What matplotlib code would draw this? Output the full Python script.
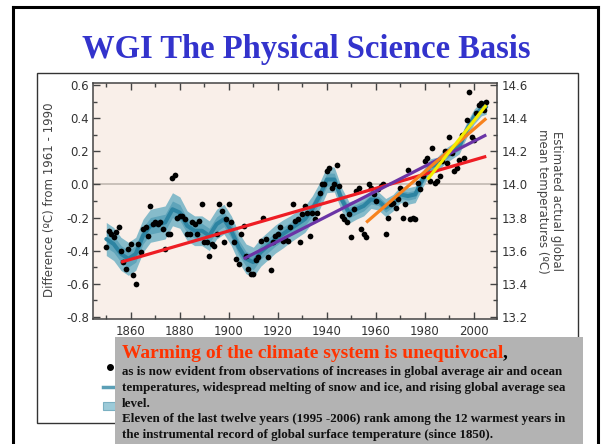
import numpy as np
import matplotlib
matplotlib.use("Agg")
import matplotlib.pyplot as plt
from matplotlib.patches import Rectangle
from matplotlib.lines import Line2D

plt.rcParams['axes.unicode_minus'] = False

W, H = 602, 444

# ---------------- data ----------------
years = np.arange(1850, 2006)
anomaly = [
    -0.38, -0.28, -0.30, -0.32, -0.29, -0.26, -0.40, -0.47, -0.51, -0.39,   # 1850s
    -0.36, -0.55, -0.60, -0.36, -0.41, -0.27, -0.26, -0.31, -0.13, -0.24,   # 1860s
    -0.23, -0.24, -0.23, -0.27, -0.39, -0.30, -0.30, 0.04, 0.06, -0.20,     # 1870s
    -0.19, -0.19, -0.21, -0.30, -0.30, -0.23, -0.24, -0.30, -0.22, -0.12,   # 1880s
    -0.35, -0.35, -0.43, -0.36, -0.37, -0.30, -0.12, -0.16, -0.35, -0.21,   # 1890s
    -0.12, -0.23, -0.35, -0.45, -0.48, -0.30, -0.25, -0.43, -0.51, -0.54,   # 1900s
    -0.54, -0.46, -0.44, -0.34, -0.20, -0.33, -0.44, -0.52, -0.35, -0.31,   # 1910s
    -0.30, -0.26, -0.34, -0.33, -0.34, -0.26, -0.12, -0.22, -0.21, -0.35,   # 1920s
    -0.18, -0.13, -0.17, -0.31, -0.17, -0.21, -0.17, -0.05, 0.00, 0.00,     # 1930s
    0.08, 0.10, -0.02, 0.00, 0.12, -0.01, -0.19, -0.21, -0.23, -0.18,       # 1940s
    -0.32, -0.15, -0.04, -0.02, -0.27, -0.30, -0.32, 0.00, -0.02, -0.06,    # 1950s
    -0.10, -0.03, -0.01, 0.00, -0.30, -0.20, -0.12, -0.11, -0.14, -0.09,    # 1960s
    -0.02, -0.20, -0.12, 0.09, -0.21, -0.20, -0.21, 0.01, -0.03, 0.05,      # 1970s
    0.14, 0.16, 0.02, 0.22, 0.01, 0.02, 0.05, 0.14, 0.20, 0.13,             # 1980s
    0.29, 0.19, 0.08, 0.10, 0.15, 0.30, 0.16, 0.39, 0.56, 0.29,             # 1990s
    0.27, 0.43, 0.48, 0.49, 0.45, 0.50,                                     # 2000s
]

smooth_years = [1850, 1853, 1856, 1859, 1862, 1865, 1868, 1871, 1874, 1877,
                1880, 1883, 1886, 1889, 1892, 1895, 1898, 1901,
                1904, 1907, 1910, 1913, 1916, 1919, 1922, 1925,
                1928, 1931, 1934, 1937, 1940, 1943, 1946,
                1949, 1952, 1955, 1958, 1961, 1964, 1967, 1970, 1973, 1976,
                1979, 1982, 1985, 1988, 1991, 1994, 1997, 2000, 2003, 2005]
smooth_vals = [-0.33, -0.36, -0.42, -0.45, -0.42, -0.31, -0.25, -0.24, -0.23, -0.15,
               -0.17, -0.25, -0.28, -0.28, -0.31, -0.24, -0.21, -0.28,
               -0.38, -0.45, -0.47, -0.41, -0.37, -0.33, -0.30, -0.27,
               -0.24, -0.21, -0.15, -0.07, 0.03, 0.03, -0.09,
               -0.17, -0.15, -0.13, -0.09, -0.10, -0.14, -0.11, -0.06, -0.07, -0.06,
               0.03, 0.11, 0.12, 0.17, 0.20, 0.23, 0.33, 0.41, 0.46, 0.47]
outer_err = [0.10, 0.10, 0.10, 0.10, 0.10, 0.10, 0.10, 0.10, 0.10, 0.10,
             0.095, 0.09, 0.09, 0.09, 0.09, 0.09, 0.09, 0.09,
             0.09, 0.09, 0.09, 0.085, 0.085, 0.085, 0.085, 0.08,
             0.08, 0.08, 0.08, 0.08, 0.08, 0.075, 0.07,
             0.065, 0.06, 0.06, 0.055, 0.055, 0.055, 0.05, 0.05, 0.05, 0.05,
             0.05, 0.045, 0.045, 0.045, 0.045, 0.045, 0.045, 0.045, 0.045, 0.045]
inner_err = [0.05, 0.05, 0.05, 0.05, 0.05, 0.05, 0.05, 0.05, 0.05, 0.05,
             0.048, 0.045, 0.045, 0.045, 0.045, 0.045, 0.045, 0.045,
             0.045, 0.045, 0.045, 0.042, 0.042, 0.042, 0.042, 0.04,
             0.04, 0.04, 0.04, 0.04, 0.04, 0.038, 0.035,
             0.033, 0.03, 0.03, 0.028, 0.028, 0.028, 0.025, 0.025, 0.025, 0.025,
             0.025, 0.022, 0.022, 0.022, 0.022, 0.022, 0.022, 0.022, 0.022, 0.022]

trend_start_years = [1856, 1906, 1956, 1981]
trend_end_years = [2005, 2005, 2005, 2005]
trend_start_vals = [-0.47, -0.45, -0.23, 0.03]
trend_end_vals = [0.17, 0.30, 0.40, 0.48]
trend_colors = ['#ee1d24', '#6b34a6', '#f7821e', '#f4ec00']

left_ticks = [-0.8, -0.6, -0.4, -0.2, 0.0, 0.2, 0.4, 0.6]
right_ticks = [13.2, 13.4, 13.6, 13.8, 14.0, 14.2, 14.4, 14.6]
x_ticks = [1860, 1880, 1900, 1920, 1940, 1960, 1980, 2000]
offset_abs = 14.0

title = "WGI The Physical Science Basis"
headline = "Warming of the climate system is unequivocal"
body_lines = [
    "as is now evident from observations of increases in global average air and ocean",
    "temperatures, widespread melting of snow and ice, and rising global average sea",
    "level.",
    "Eleven of the last twelve years (1995 -2006) rank among the 12 warmest years in",
    "the instrumental record of global surface temperature (since 1850).",
]

# ---------------- helpers ----------------
def fx(x):
    return x / W

def fy(y):
    return 1 - y / H

fig = plt.figure(figsize=(W / 100, H / 100), dpi=100)
fig.patch.set_facecolor('white')

# outer slide frame
for xs, ys in [([12.5, 12.5], [460, 7.5]), ([12.5, 598], [7.5, 7.5]), ([598, 598], [7.5, 460])]:
    fig.add_artist(Line2D([fx(v) for v in xs], [fy(v) for v in ys], color='black', lw=2.2,
                          transform=fig.transFigure, zorder=0.5))

# title
fig.text(fx(306), fy(58), title, ha='center', va='baseline', color='#3333cc',
         fontsize=23.5, fontweight='bold', family=['Liberation Serif', 'DejaVu Serif'])

# inner image box
fig.add_artist(Rectangle((fx(36.7), fy(422.7)), fx(578) - fx(36.7), fy(72.7) - fy(422.7),
                         transform=fig.transFigure, facecolor='white', edgecolor='#333333',
                         lw=1.0, zorder=0.6))

# main axes
ax = fig.add_axes([fx(93.3), fy(319), fx(497.3) - fx(93.3), fy(83) - fy(319)])
ax.set_zorder(1.0)
ax.set_facecolor('#f9efe9')
ax.set_xlim(1844.7, 2009.5)
ax.set_ylim(-0.814, 0.614)

ax.axhline(0, color='#c9c0b9', lw=1.4, zorder=1)

s = np.array(smooth_vals)
oe = np.array(outer_err)
ie = np.array(inner_err)
ax.fill_between(smooth_years, s - oe, s + oe, color='#86bbca', lw=0, zorder=2)
ax.fill_between(smooth_years, s - ie, s + ie, color='#5fa4ba', lw=0, zorder=3)
ax.plot(smooth_years, smooth_vals, color='#2d84a2', lw=2.9, solid_joinstyle='round',
        solid_capstyle='round', zorder=4)

ax.scatter(years, anomaly, s=17, color='black', lw=0, zorder=5)

for sy, ey, sv, ev, c in zip(trend_start_years, trend_end_years, trend_start_vals,
                             trend_end_vals, trend_colors):
    ax.plot([sy, ey], [sv, ev], color=c, lw=2.3, solid_capstyle='butt', zorder=6)

spine_col = '#444444'
for sp in ax.spines.values():
    sp.set_color(spine_col)
    sp.set_linewidth(1.1)

ax.set_xticks(x_ticks)
ax.set_xticks(np.arange(1850, 2010, 10), minor=True)
ax.set_yticks(left_ticks)
ax.set_yticks(np.arange(-0.8, 0.61, 0.1), minor=True)
ax.set_yticklabels(['%.1f' % v for v in left_ticks])
ax.tick_params(which='both', direction='in', top=True, bottom=True, left=True, right=False,
               color=spine_col, labelcolor='#333333')
ax.tick_params(which='major', length=5, width=1.0, labelsize=8.5, pad=3)
ax.tick_params(which='minor', length=3, width=1.0)
ax.tick_params(axis='x', which='major', pad=4)

ax2 = ax.twinx()
ax2.set_zorder(1.1)
ax2.patch.set_visible(False)
ax2.set_ylim(-0.814 + offset_abs, 0.614 + offset_abs)
ax2.set_yticks(right_ticks)
ax2.set_yticks(np.arange(13.2, 14.61, 0.1), minor=True)
ax2.set_yticklabels(['%.1f' % v for v in right_ticks])
ax2.tick_params(which='both', direction='in', color=spine_col, labelcolor='#333333')
ax2.tick_params(which='major', length=5, width=1.0, labelsize=8.5, pad=3)
ax2.tick_params(which='minor', length=3, width=1.0)
for sp in ax2.spines.values():
    sp.set_visible(False)

fig.text(fx(50), fy(200), "Difference (ºC) from 1961 - 1990", rotation=90,
         ha='center', va='center', fontsize=8.5, color='#444444', zorder=2)
fig.text(fx(550), fy(201), "Estimated actual global\nmean temperatures (ºC)", rotation=270,
         ha='center', va='center', multialignment='center', fontsize=8.5, color='#444444',
         linespacing=1.1, zorder=2)

# legend symbols of the original figure (partly hidden)
fig.add_artist(Line2D([fx(110)], [fy(367)], marker='o', markersize=4, color='black', lw=0,
                      transform=fig.transFigure, zorder=2))
fig.add_artist(Line2D([fx(102.7), fx(116)], [fy(386.7), fy(386.7)], color='#5b9fb6', lw=2.5,
                      transform=fig.transFigure, zorder=2))
fig.add_artist(Rectangle((fx(102.7), fy(410)), fx(116) - fx(102.7), fy(401.7) - fy(410),
                         transform=fig.transFigure, facecolor='#9ccad8', edgecolor='#7ab0c2',
                         lw=0.8, zorder=2))

# grey text box
fig.add_artist(Rectangle((fx(115), fy(460)), fx(583) - fx(115), fy(337) - fy(460),
                         transform=fig.transFigure, facecolor='#b3b3b3', edgecolor='none',
                         zorder=3))

serif = ['Liberation Serif', 'DejaVu Serif']
t = fig.text(fx(121.7), fy(357.7), headline, ha='left', va='baseline', color='#ff3300',
             fontsize=14, fontweight='bold', family=serif, zorder=4)
fig.canvas.draw()
bb = t.get_window_extent()
fig.text(bb.x1 / W, fy(357.7), ",", ha='left', va='baseline', color='black',
         fontsize=14, fontweight='bold', family=serif, zorder=4)

baselines = [375, 391, 406.5, 421.7, 438.3]
for line, yb in zip(body_lines, baselines):
    fig.text(fx(121.7), fy(yb), line, ha='left', va='baseline', color='#111111',
             fontsize=9.4, fontweight='bold', family=serif, zorder=4)

fig.savefig('out.png', dpi=100)
